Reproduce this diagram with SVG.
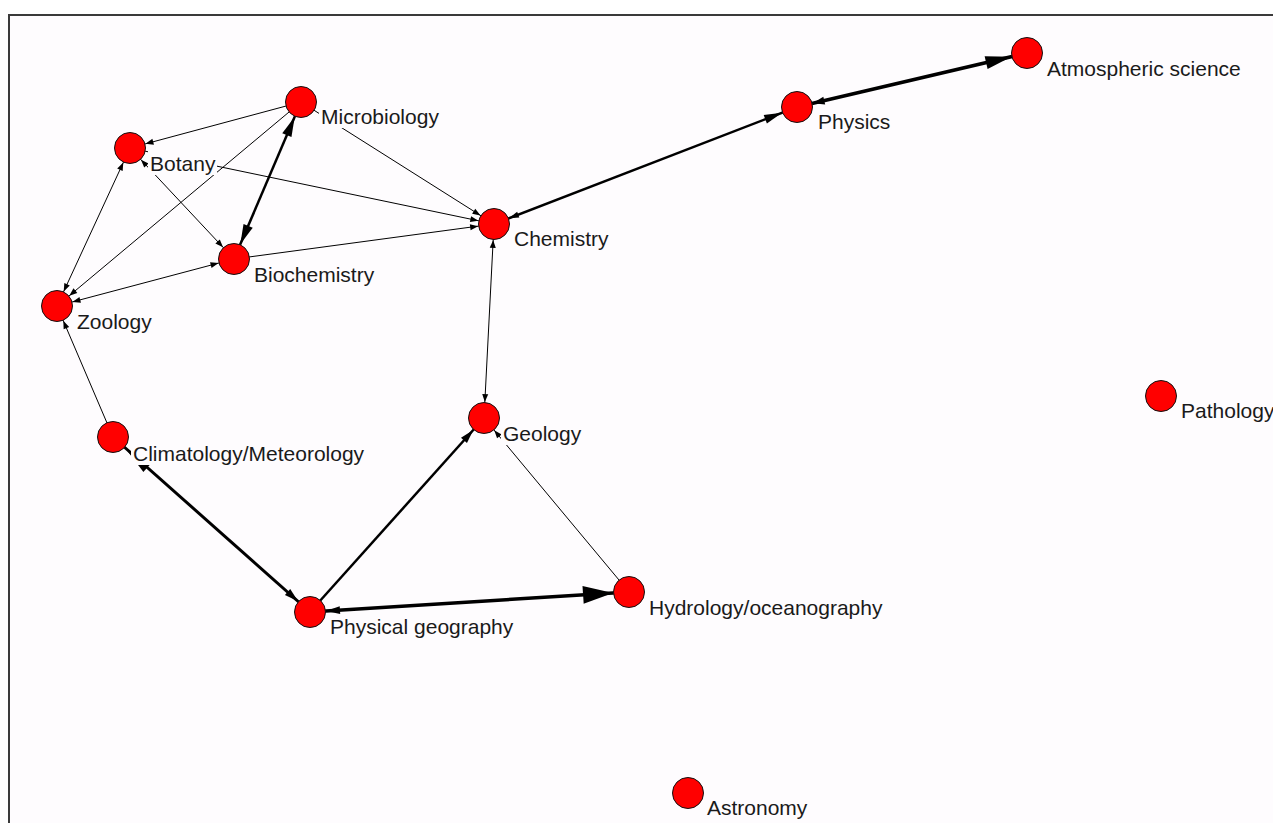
<svg xmlns="http://www.w3.org/2000/svg" width="1273" height="823" viewBox="0 0 1273 823">
<style>
.e{stroke:#000;fill:none;stroke-linecap:butt}
.t1{stroke-width:1}
.n circle{fill:#ff0000;stroke:#111;stroke-width:1}
.n rect{fill:#fefcfe;stroke:none}
.n text{font-family:"Liberation Sans",Arial,sans-serif;font-size:21px;fill:#1a1a1a}
.ah{fill:#000}
</style>
<defs>
<marker id="s" markerUnits="userSpaceOnUse" markerWidth="8" markerHeight="6" refX="24" refY="3" orient="auto-start-reverse" overflow="visible"><path class="ah" d="M0,0 L8,3 L0,6 z"/></marker>
<marker id="m10" markerUnits="userSpaceOnUse" markerWidth="10" markerHeight="6" refX="26" refY="3" orient="auto-start-reverse" overflow="visible"><path class="ah" d="M0,0 L10,3 L0,6 z"/></marker>
<marker id="m12" markerUnits="userSpaceOnUse" markerWidth="12" markerHeight="8" refX="28" refY="4" orient="auto-start-reverse" overflow="visible"><path class="ah" d="M0,0 L12,4 L0,8 z"/></marker>
<marker id="m14" markerUnits="userSpaceOnUse" markerWidth="14" markerHeight="8" refX="30" refY="4" orient="auto-start-reverse" overflow="visible"><path class="ah" d="M0,0 L14,4 L0,8 z"/></marker>
<marker id="m18" markerUnits="userSpaceOnUse" markerWidth="18" markerHeight="9" refX="34" refY="4.5" orient="auto-start-reverse" overflow="visible"><path class="ah" d="M0,0 L18,4.5 L0,9 z"/></marker>
<marker id="l20" markerUnits="userSpaceOnUse" markerWidth="20" markerHeight="10" refX="36" refY="5" orient="auto-start-reverse" overflow="visible"><path class="ah" d="M0,0 L20,5 L0,10 z"/></marker>
<marker id="l26" markerUnits="userSpaceOnUse" markerWidth="26" markerHeight="13" refX="42" refY="6.5" orient="auto-start-reverse" overflow="visible"><path class="ah" d="M0,0 L26,6.5 L0,13 z"/></marker>
<marker id="l30" markerUnits="userSpaceOnUse" markerWidth="30" markerHeight="12" refX="46" refY="6" orient="auto-start-reverse" overflow="visible"><path class="ah" d="M0,0 L30,6 L0,12 z"/></marker>
<marker id="l30w" markerUnits="userSpaceOnUse" markerWidth="30" markerHeight="18" refX="46" refY="9" orient="auto-start-reverse" overflow="visible"><path class="ah" d="M0,0 L30,9 L0,18 z"/></marker>
</defs>
<rect x="0" y="0" width="1273" height="823" fill="#ffffff"/>
<rect x="9" y="15" width="1300" height="850" fill="#fefcfe" stroke="#3a3a3a" stroke-width="2"/>
<g id="edges">
<line class="e t1" x1="301" y1="102" x2="130" y2="148" marker-end="url(#s)"/>
<line class="e t1" x1="130" y1="148" x2="57" y2="306" marker-start="url(#s)" marker-end="url(#s)"/>
<line class="e t1" x1="301" y1="102" x2="57" y2="306" marker-end="url(#s)"/>
<line class="e t1" x1="130" y1="148" x2="234" y2="259" marker-start="url(#s)" marker-end="url(#s)"/>
<line class="e t1" x1="130" y1="148" x2="494" y2="224" marker-end="url(#s)"/>
<line class="e" stroke-width="2.5" x1="301" y1="102" x2="234" y2="259" marker-start="url(#l20)" marker-end="url(#l20)"/>
<line class="e t1" x1="234" y1="259" x2="57" y2="306" marker-start="url(#s)" marker-end="url(#s)"/>
<line class="e t1" x1="301" y1="102" x2="494" y2="224" marker-end="url(#s)"/>
<line class="e t1" x1="234" y1="259" x2="494" y2="224" marker-end="url(#s)"/>
<line class="e" stroke-width="2.5" x1="494" y1="224" x2="797" y2="107" marker-start="url(#m10)" marker-end="url(#m18)"/>
<line class="e" stroke-width="3.5" x1="797" y1="107" x2="1027" y2="53" marker-start="url(#m12)" marker-end="url(#l26)"/>
<line class="e t1" x1="494" y1="224" x2="484" y2="418" marker-start="url(#s)" marker-end="url(#s)"/>
<line class="e t1" x1="113" y1="437" x2="57" y2="306" marker-end="url(#s)"/>
<line class="e" stroke-width="3" x1="113" y1="437" x2="310" y2="612" marker-start="url(#l30)" marker-end="url(#m14)"/>
<line class="e" stroke-width="2.5" x1="310" y1="612" x2="484" y2="418" marker-end="url(#m14)"/>
<line class="e" stroke-width="3.5" x1="310" y1="612" x2="629" y2="592" marker-start="url(#m14)" marker-end="url(#l30w)"/>
<line class="e t1" x1="629" y1="592" x2="484" y2="418" marker-end="url(#s)"/>
</g>
<g id="node-microbiology" class="n"><rect x="319" y="104" width="122" height="24"/><circle cx="301" cy="102" r="15.5"/><text x="321" y="124">Microbiology</text></g>
<g id="node-botany" class="n"><rect x="148" y="151" width="69" height="24"/><circle cx="130" cy="148" r="15.5"/><text x="150" y="171">Botany</text></g>
<g id="node-chemistry" class="n"><rect x="512" y="226" width="98" height="24"/><circle cx="494" cy="224" r="15.5"/><text x="514" y="246">Chemistry</text></g>
<g id="node-biochemistry" class="n"><rect x="252" y="262" width="124" height="24"/><circle cx="234" cy="259" r="15.5"/><text x="254" y="282">Biochemistry</text></g>
<g id="node-zoology" class="n"><rect x="75" y="309" width="79" height="24"/><circle cx="57" cy="306" r="15.5"/><text x="77" y="329">Zoology</text></g>
<g id="node-physics" class="n"><rect x="816" y="109" width="76" height="24"/><circle cx="797" cy="107" r="15.5"/><text x="818" y="129">Physics</text></g>
<g id="node-atmospheric-science" class="n"><rect x="1045" y="56" width="198" height="24"/><circle cx="1027" cy="53" r="15.5"/><text x="1047" y="76">Atmospheric science</text></g>
<g id="node-pathology" class="n"><rect x="1179" y="398" width="96" height="24"/><circle cx="1161" cy="396" r="15.5"/><text x="1181" y="418">Pathology</text></g>
<g id="node-geology" class="n"><rect x="501" y="421" width="82" height="24"/><circle cx="484" cy="418" r="15.5"/><text x="503" y="441">Geology</text></g>
<g id="node-climatology-meteorology" class="n"><rect x="131" y="441" width="235" height="24"/><circle cx="113" cy="437" r="15.5"/><text x="133" y="461">Climatology/Meteorology</text></g>
<g id="node-hydrology-oceanography" class="n"><rect x="647" y="595" width="237" height="24"/><circle cx="629" cy="592" r="15.5"/><text x="649" y="615">Hydrology/oceanography</text></g>
<g id="node-physical-geography" class="n"><rect x="328" y="614" width="187" height="24"/><circle cx="310" cy="612" r="15.5"/><text x="330" y="634">Physical geography</text></g>
<g id="node-astronomy" class="n"><rect x="705" y="795" width="104" height="24"/><circle cx="688" cy="793" r="15.5"/><text x="707" y="815">Astronomy</text></g>
</svg>
